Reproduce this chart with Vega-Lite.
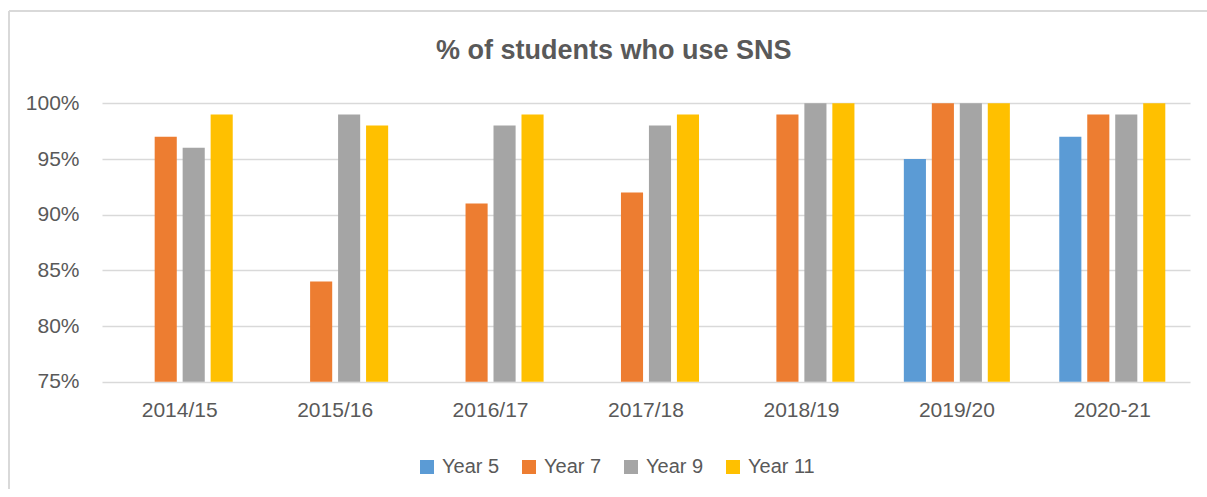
{
  "$schema": "https://vega.github.io/schema/vega-lite/v6.json",
  "autosize": {"type": "none"},
  "width": 1198,
  "height": 478,
  "padding": {"left": 9, "top": 11, "right": 0, "bottom": 0},
  "background": "white",
  "title": {
    "text": "% of students who use SNS",
    "font": "Liberation Sans",
    "fontSize": 27,
    "fontWeight": "bold",
    "color": "#595959",
    "anchor": "start",
    "baseline": "alphabetic",
    "offset": -75,
    "dx": 427
  },
  "data": {
    "values": [
      {"period": "2014/15", "group": "Year 7", "value": 0.97},
      {"period": "2014/15", "group": "Year 9", "value": 0.96},
      {"period": "2014/15", "group": "Year 11", "value": 0.99},
      {"period": "2015/16", "group": "Year 7", "value": 0.84},
      {"period": "2015/16", "group": "Year 9", "value": 0.99},
      {"period": "2015/16", "group": "Year 11", "value": 0.98},
      {"period": "2016/17", "group": "Year 7", "value": 0.91},
      {"period": "2016/17", "group": "Year 9", "value": 0.98},
      {"period": "2016/17", "group": "Year 11", "value": 0.99},
      {"period": "2017/18", "group": "Year 7", "value": 0.92},
      {"period": "2017/18", "group": "Year 9", "value": 0.98},
      {"period": "2017/18", "group": "Year 11", "value": 0.99},
      {"period": "2018/19", "group": "Year 7", "value": 0.99},
      {"period": "2018/19", "group": "Year 9", "value": 1.0},
      {"period": "2018/19", "group": "Year 11", "value": 1.0},
      {"period": "2019/20", "group": "Year 5", "value": 0.95},
      {"period": "2019/20", "group": "Year 7", "value": 1.0},
      {"period": "2019/20", "group": "Year 9", "value": 1.0},
      {"period": "2019/20", "group": "Year 11", "value": 1.0},
      {"period": "2020-21", "group": "Year 5", "value": 0.97},
      {"period": "2020-21", "group": "Year 7", "value": 0.99},
      {"period": "2020-21", "group": "Year 9", "value": 0.99},
      {"period": "2020-21", "group": "Year 11", "value": 1.0}
    ]
  },
  "mark": {"type": "bar"},
  "encoding": {
    "x": {
      "field": "period",
      "type": "nominal",
      "sort": ["2014/15", "2015/16", "2016/17", "2017/18", "2018/19", "2019/20", "2020-21"],
      "scale": {"range": [93, 1181], "paddingInner": 0.28, "paddingOuter": 0.14},
      "axis": {
        "orient": "bottom",
        "offset": -107,
        "title": null,
        "domain": false,
        "ticks": false,
        "tickSize": 0,
        "grid": false,
        "labelAngle": 0,
        "labelFontSize": 21,
        "labelColor": "#595959",
        "labelPadding": 17
      }
    },
    "xOffset": {
      "field": "group",
      "type": "nominal",
      "sort": ["Year 5", "Year 7", "Year 9", "Year 11"],
      "scale": {"domain": ["Year 5", "Year 7", "Year 9", "Year 11"], "paddingInner": 0.21, "paddingOuter": 0.105}
    },
    "y": {
      "field": "value",
      "type": "quantitative",
      "scale": {"domain": [0.75, 1], "range": [370.8, 92.3], "clamp": true, "zero": false, "nice": false},
      "axis": {
        "orient": "left",
        "offset": -93,
        "title": null,
        "values": [0.75, 0.8, 0.85, 0.9, 0.95, 1.0],
        "format": ".0%",
        "domain": false,
        "ticks": false,
        "tickSize": 0,
        "labelPadding": 23,
        "labelFontSize": 21,
        "labelColor": "#595959",
        "grid": true,
        "gridColor": "#D9D9D9",
        "gridWidth": 1.5
      }
    },
    "color": {
      "field": "group",
      "type": "nominal",
      "scale": {
        "domain": ["Year 5", "Year 7", "Year 9", "Year 11"],
        "range": ["#5B9BD5", "#ED7D31", "#A5A5A5", "#FFC000"]
      },
      "legend": {
        "title": null,
        "orient": "none",
        "legendX": 408,
        "legendY": 446,
        "direction": "horizontal",
        "symbolType": "square",
        "symbolSize": 196,
        "symbolStrokeWidth": 0,
        "symbolOpacity": 1,
        "labelFontSize": 20,
        "labelColor": "#595959",
        "labelOffset": 5,
        "columnPadding": 19,
        "padding": 0
      }
    }
  },
  "config": {
    "font": "Liberation Sans",
    "view": {"stroke": "#D9D9D9", "strokeWidth": 2, "strokeDash": [1198, 1676, 478, 0]}
  }
}
